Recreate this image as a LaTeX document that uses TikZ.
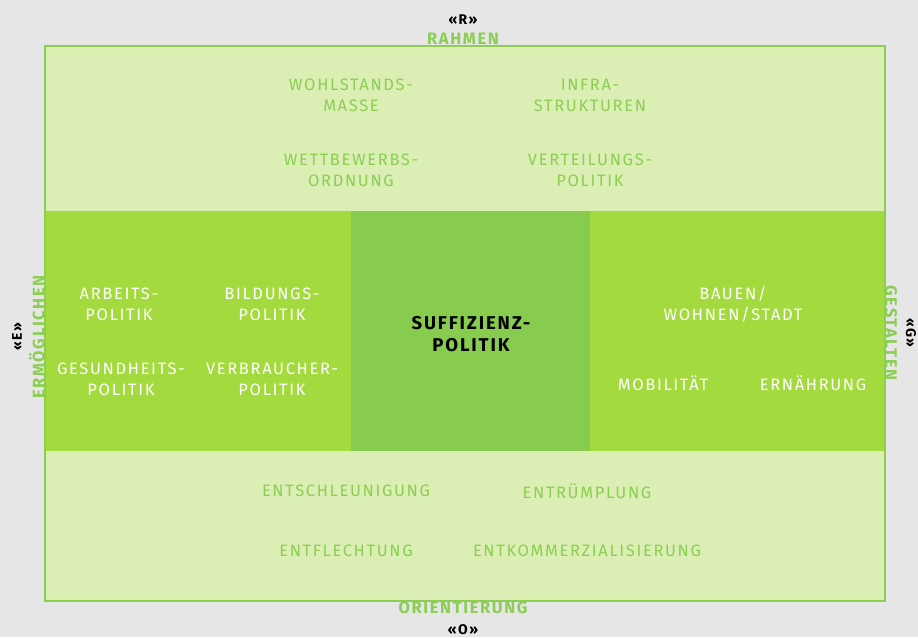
\documentclass[tikz,border=0pt]{standalone}
\usepackage{fontspec}
\setmainfont{Fira Sans}[LetterSpace=10]
\usepackage{tikz}
\definecolor{bggray}{HTML}{E6E6E6}
\definecolor{palegreen}{HTML}{DBEFB4}
\definecolor{midgreen}{HTML}{A3DA3E}
\definecolor{coregreen}{HTML}{87CC4F}
\definecolor{labelgreen}{HTML}{8BCE52}
\tikzstyle{term}=[text=labelgreen,font=\fontsize{16.5}{21}\selectfont,align=center,inner sep=0pt]
\tikzstyle{field}=[text=white,font=\fontsize{16.5}{21}\selectfont,align=center,inner sep=0pt]
\tikzstyle{side}=[text=labelgreen,font=\fontsize{16.5}{18}\selectfont\bfseries,inner sep=0pt]
\tikzstyle{letter}=[text=black,font=\fontsize{14}{16}\selectfont\bfseries,inner sep=0pt]

\begin{document}
\begin{tikzpicture}[x=1pt,y=-1pt]
      % areas
      \fill[bggray] (0,0) rectangle (918,637);
      \fill[palegreen] (45,46) rectangle (885,601);
      \fill[midgreen] (45,211) rectangle (885,451);
      \fill[coregreen] (351,211) rectangle (590,451);
      \draw[labelgreen,line width=2pt] (45,46) rectangle (885,601);
      % frame labels
      \node[letter] (r) at (463,20) {«R»};
      \node[side] (rahmen) at (463,39) {RAHMEN};
      \node[side] (orient) at (463,608) {ORIENTIERUNG};
      \node[letter] (o) at (463,630) {«O»};
      \node[side,rotate=90] (ermoeg) at (37,337) {ERMÖGLICHEN};
      \node[letter,rotate=90] (e) at (17,337) {«E»};
      \node[side,rotate=-90] (gestalt) at (891,333) {GESTALTEN};
      \node[letter,rotate=-90] (g) at (911,333) {«G»};
      % rahmen
      \node[term] (wohl) at (351,95) {WOHLSTANDS-\\MASSE};
      \node[term] (infra) at (590,95) {INFRA-\\STRUKTUREN};
      \node[term] (wettb) at (351,170) {WETTBEWERBS-\\ORDNUNG};
      \node[term] (vert) at (590,170) {VERTEILUNGS-\\POLITIK};
      % ermoeglichen
      \node[field] (arbeit) at (119,304) {ARBEITS-\\POLITIK};
      \node[field] (bildung) at (272,304) {BILDUNGS-\\POLITIK};
      \node[field] (gesund) at (121,379) {GESUNDHEITS-\\POLITIK};
      \node[field] (verbr) at (272,379) {VERBRAUCHER-\\POLITIK};
      % core
      \node[letter,font=\fontsize{18.5}{22}\selectfont\bfseries,align=center] (suff) at (471,334) {SUFFIZIENZ-\\POLITIK};
      % gestalten
      \node[field] (bauen) at (733,304) {BAUEN/\\WOHNEN/STADT};
      \node[field] (mobil) at (663,383) {MOBILITÄT};
      \node[field] (ernaehr) at (813,383) {ERNÄHRUNG};
      % orientierung
      \node[term] (entschl) at (346,491) {ENTSCHLEUNIGUNG};
      \node[term] (entruem) at (587,491) {ENTRÜMPLUNG};
      \node[term] (entfl) at (346,551) {ENTFLECHTUNG};
      \node[term] (entkomm) at (587,551) {ENTKOMMERZIALISIERUNG};
    \end{tikzpicture}
\end{document}
